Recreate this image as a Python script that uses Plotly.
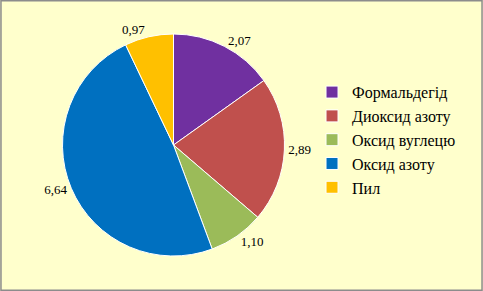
import plotly.graph_objects as go

labels = ["Формальдегід", "Диоксид азоту", "Оксид вуглецю", "Оксид азоту", "Пил"]
values = [2.07, 2.89, 1.10, 6.64, 0.97]
colors = ["#7030A0", "#C0504D", "#9BBB59", "#0070C0", "#FFC000"]

W, H = 483, 291
cx, cy, r = 173.5, 145, 111
SERIF = "Liberation Serif, DejaVu Serif, serif"

fig = go.Figure(go.Pie(
    labels=labels,
    values=values,
    sort=False,
    direction="clockwise",
    rotation=0,
    marker=dict(colors=colors, line=dict(color="white", width=1)),
    textposition="outside",
    texttemplate="%{value:.2f}",
    textfont=dict(family=SERIF, size=13, color="black"),
    hoverinfo="label+value",
    domain=dict(x=[(cx - r) / W, (cx + r) / W], y=[1 - (cy + r) / H, 1 - (cy - r) / H]),
))

fig.update_layout(
    width=W, height=H,
    margin=dict(l=0, r=0, t=0, b=0),
    paper_bgcolor="#FFFFCC",
    separators=", ",
    font=dict(family=SERIF),
    showlegend=True,
    legend=dict(
        x=0.646, y=0.52, xanchor="left", yanchor="middle",
        font=dict(family=SERIF, size=16, color="black"),
        bgcolor="rgba(0,0,0,0)",
        itemwidth=30,
    ),
    shapes=[dict(type="rect", xref="paper", yref="paper", x0=0.002, y0=0.003, x1=0.998, y1=0.997,
                 line=dict(color="#8C8C8C", width=1.5))],
)

fig.write_html("out.html")
